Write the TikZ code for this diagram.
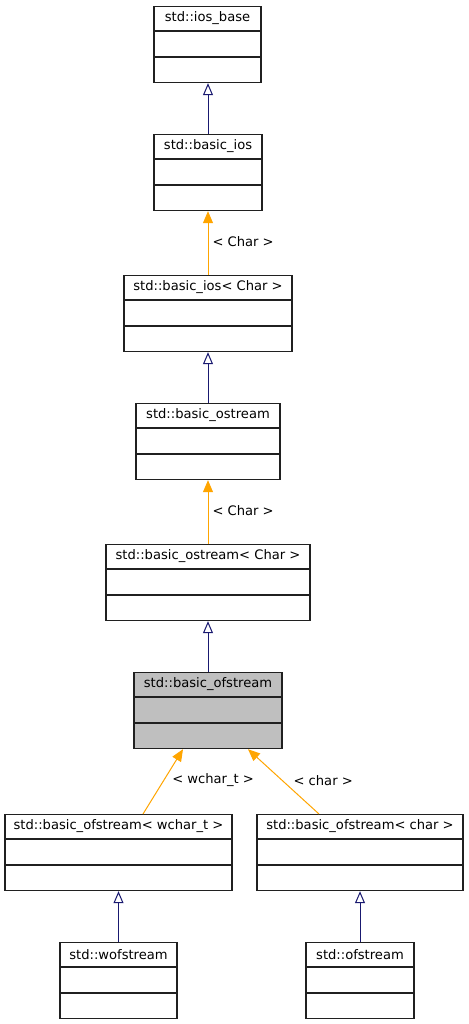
\documentclass[tikz,border=0pt]{standalone}
\usepackage{fontspec}
\setmainfont{DejaVu Sans}
\usetikzlibrary{arrows.meta}
\definecolor{navyedge}{HTML}{191970}
\definecolor{orangeedge}{HTML}{FFA500}
\definecolor{grayfill}{HTML}{BFBFBF}
\definecolor{boxborder}{HTML}{202020}
\tikzset{
  umlbox/.style={draw=boxborder, line width=1.2pt, rectangle, minimum height=76pt, inner sep=0pt, anchor=north},
  umltitle/.style={font=\fontsize{13.1}{15}\selectfont, inner sep=0pt, anchor=center},
  divider/.style={draw=boxborder, line width=1.2pt},
  inherit/.style={draw=navyedge, line width=1pt, -{Triangle[open, length=12pt, width=10pt, line width=1pt]}},
  templ/.style={draw=orangeedge, line width=1pt, -{Triangle[length=12pt, width=10pt, fill=orangeedge]}},
  edgelabel/.style={font=\fontsize{13.1}{15}\selectfont, inner sep=0pt, anchor=west}
}
% name, center x, top y, width, text, fill
\newcommand\mkbox[6]{%
  \node[umlbox, fill=#6, minimum width=#4pt] (#1) at (#2,#3) {};
  \node[umltitle] (#1-title) at ([yshift=-12.5pt]#1.north) {#5};
  \draw[divider] ([yshift=-25pt]#1.north west) -- ([yshift=-25pt]#1.north east);
  \draw[divider] ([yshift=-51pt]#1.north west) -- ([yshift=-51pt]#1.north east);
}
\begin{document}
\begin{tikzpicture}[x=1pt, y=-1pt]
\useasboundingbox[fill=white] (0,0) rectangle (468,1024);
\mkbox{iosbase}{207.5}{6}{107}{std::ios\_base}{white}
\mkbox{basicios}{208}{134}{108}{std::basic\_ios}{white}
\mkbox{basiciosc}{208}{275}{168}{std::basic\_ios< Char >}{white}
\mkbox{basicostream}{208}{403}{144}{std::basic\_ostream}{white}
\mkbox{basicostreamc}{208}{544}{204}{std::basic\_ostream< Char >}{white}
\mkbox{basicofstream}{208}{672}{148}{std::basic\_ofstream}{grayfill}
\mkbox{ofwchar}{118.5}{814}{227}{std::basic\_ofstream< wchar\_t >}{white}
\mkbox{ofchar}{360}{814}{206}{std::basic\_ofstream< char >}{white}
\mkbox{wofstream}{118.5}{942}{117}{std::wofstream}{white}
\mkbox{ofstream}{360}{942}{108}{std::ofstream}{white}

\draw[inherit] (basicios.north) -- (basicios.north |- iosbase.south);
\draw[templ] (basiciosc.north) -- (basicios.south) node[edgelabel, pos=0.52, xshift=4pt] (l1) {< Char >};
\draw[inherit] (basicostream.north) -- (basiciosc.south);
\draw[templ] (basicostreamc.north) -- (basicostream.south) node[edgelabel, pos=0.52, xshift=4pt] (l2) {< Char >};
\draw[inherit] (basicofstream.north) -- (basicostreamc.south);
\draw[templ] ([xshift=24.5pt]ofwchar.north) -- ([xshift=-25pt]basicofstream.south) node[edgelabel, pos=0.52, xshift=8pt] (l3) {< wchar\_t >};
\draw[templ] ([xshift=-41pt]ofchar.north) -- ([xshift=40pt]basicofstream.south) node[edgelabel, pos=0.52, xshift=11pt] (l4) {< char >};
\draw[inherit] (wofstream.north) -- (ofwchar.south);
\draw[inherit] (ofstream.north) -- (ofchar.south);
\end{tikzpicture}
\end{document}
